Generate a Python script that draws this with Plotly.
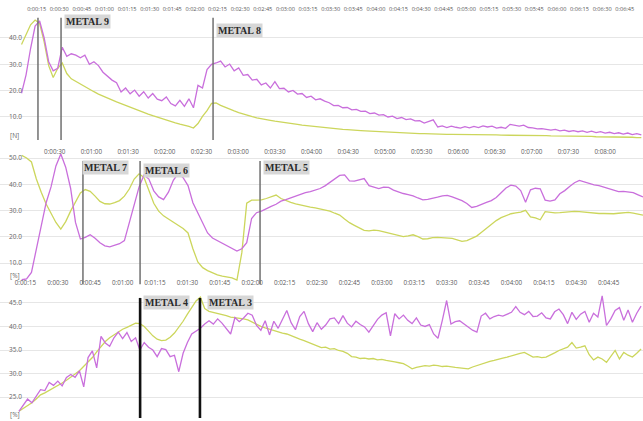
import numpy as np
import plotly.graph_objects as go

# ---------------------------------------------------------------
# Panel 1 : force [N], sampled every 3 s from t = 5 s
# ---------------------------------------------------------------
P1_T0, P1_DT = 5, 3
p1_purple = [19, 26, 36, 44.5, 46.5, 40, 31, 27.5, 28.5, 36.5, 33, 34, 33.5, 32.5, 33.5, 30,
             31, 29.5, 27, 25.5, 24, 23, 19.5, 21.0, 18.8, 20.2, 17.9, 19.6, 17.2, 18.9, 16.8,
             16.2, 17.6, 15.1, 14.2, 16.3, 14.0, 16.9, 13.5, 22, 21, 28, 30, 30.5, 31.2, 29,
             30.1, 27.5, 28.6, 25.8, 26.1, 24.0, 24.3, 22.2, 22.9, 21.0, 23.4, 20.8, 20.9, 19.5,
             20.1, 18.7, 18.9, 17.4, 17.9, 16.5, 16.9, 16.0, 15.4, 14.3, 14.4, 13.5, 13.6, 12.7,
             12.9, 12.1, 12.2, 11.3, 11.5, 10.7, 10.9, 10.0, 10.3, 9.4, 9.8, 9.0, 9.3, 8.5, 8.6,
             7.7, 8.3, 8.9, 6.2, 6.6, 6.0, 6.5, 6.1, 5.8, 6.3, 5.9, 6.4, 6.0, 6.6, 6.2, 6.5, 5.8,
             6.1, 5.7, 7.2, 6.8, 6.5, 6.9, 6.0, 5.9, 5.5, 5.6, 5.2, 5.0, 5.3, 4.7, 5.0, 4.5, 4.8,
             4.4, 4.7, 4.2, 4.6, 4.1, 4.4, 3.9, 4.2, 3.7, 4.0, 3.5, 3.9, 3.3, 3.7, 3.2]
p1_yellow = [37.5, 41.5, 45, 46.8, 45.5, 38.5, 29.5, 25, 28.5, 30.5, 26.5, 24.5, 23.5, 22.3,
             21.4, 20.6, 19.6, 18.7, 17.9, 17.1, 16.4, 15.7, 15.1, 14.4, 13.8, 13.1, 12.4, 11.6,
             11.1, 10.5, 9.9, 9.3, 8.9, 8.3, 7.8, 7.3, 6.9, 6.4, 5.8, 7.5, 10.2, 12.4, 15.2, 15.3,
             14.4, 13.6, 12.9, 12.3, 11.7, 11.1, 10.6, 10.1, 9.7, 9.3, 9.0, 8.7, 8.4, 8.2, 7.9,
             7.7, 7.4, 7.2, 6.9, 6.7, 6.5, 6.3, 6.1, 5.9, 5.8, 5.6, 5.5, 5.3, 5.2, 5.0, 4.9, 4.8,
             4.7, 4.6, 4.5, 4.4, 4.3, 4.2, 4.1, 4.0, 4.0, 3.9, 3.9, 3.8, 3.7, 3.7, 3.6, 3.6, 3.5,
             3.5, 3.4, 3.4, 3.4, 3.3, 3.3, 3.3, 3.3, 3.2, 3.2, 3.2, 3.2, 3.2, 3.1, 3.1, 3.1, 3.1,
             3.1, 3.0, 3.0, 3.0, 2.9, 2.9, 2.9, 2.8, 2.8, 2.8, 2.7, 2.7, 2.7, 2.7, 2.6, 2.6, 2.6,
             2.5, 2.5, 2.5, 2.4, 2.4, 2.4, 2.3, 2.3, 2.3, 2.2, 2.2]
p1_ticks = ["0:00:15", "0:00:30", "0:00:45", "0:01:00", "0:01:15", "0:01:30", "0:01:45",
            "0:02:00", "0:02:15", "0:02:30", "0:02:45", "0:03:00", "0:03:15", "0:03:30",
            "0:03:45", "0:04:00", "0:04:15", "0:04:30", "0:04:45", "0:05:00", "0:05:15",
            "0:05:30", "0:05:45", "0:06:00", "0:06:15", "0:06:30", "0:06:45"]
p1_metals = [("", 15.9), ("METAL 9", 31.2), ("METAL 8", 132.0)]

# ---------------------------------------------------------------
# Panel 2 : [%], sampled every 4 s from t = 3 s
# ---------------------------------------------------------------
P2_T0, P2_DT = 3, 4
p2_purple = [3.7, 4.0, 6.5, 15.5, 25, 33, 39, 47, 51.5, 46.5, 38.5, 25.5, 19.2, 19.8, 20.8,
             19.5, 17.8, 16.6, 16.2, 16.8, 17.4, 18.6, 25.5, 33, 39, 43.5, 42, 37.5, 35.2,
             34.2, 37, 41.5, 44.2, 42.5, 39.5, 33, 29, 25.5, 21.5, 19.6, 18.6, 17.8, 16.9, 15.8,
             14.6, 15.5, 17.8, 27, 29.2, 29.8, 30.8, 31.6, 32.4, 33.6, 34.2, 34.9, 35.6, 36.2,
             36.8, 37.2, 37.8, 38.4, 39.4, 40.8, 42.3, 43.4, 43.6, 41.3, 41.2, 41.8, 42.2, 39.5,
             38.8, 38.4, 38.9, 38.8, 37.8, 37.0, 36.5, 36.1, 35.6, 34.8, 34.1, 34.3, 34.6, 35.1,
             35.6, 35.8, 35.2, 34.6, 33.8, 32.7, 31.2, 31.6, 32.5, 33.1, 33.8, 35.0, 36.8, 38.6,
             39.7, 39.3, 37.6, 33.2, 37.9, 38.5, 38.3, 34.0, 33.6, 34.1, 36.4, 37.6, 39.2, 40.6,
             41.5, 40.9, 40.2, 39.8, 39.5, 38.9, 38.3, 37.6, 37.2, 37.3, 37.1, 36.8, 36.0, 35.2]
p2_yellow = [51, 50, 48.5, 42, 37, 32.5, 29, 25.5, 23, 25.8, 29.8, 33.5, 36.7, 38, 37.3, 35.5,
             33.5, 32.6, 32.5, 33, 33.8, 35.5, 38.2, 42, 44, 42.6, 37.5, 32.8, 29.8, 28, 26.8,
             25.5, 24.3, 23.2, 21.5, 15.5, 10.5, 8.3, 7.2, 6.3, 5.6, 5.1, 4.7, 4.4, 3.6, 14,
             32.8, 34, 34, 34.1, 34.6, 35.3, 35.9, 34.6, 33.8, 33.1, 32.6, 32.1, 31.6, 31.3, 31,
             30.6, 30.3, 29.8, 29, 28.3, 26.8, 25.4, 24.4, 23.4, 22.5, 22.3, 22.6, 22.4, 21.9,
             21.5, 21.1, 20.6, 20.1, 20.4, 20.8, 20.1, 19.2, 19.3, 19.7, 19.8, 19.6, 19.5, 19.4,
             18.9, 18.3, 18.6, 19.4, 20.3, 21.8, 23.3, 24.6, 26.2, 27.3, 28.1, 28.8, 29.1, 29.4,
             30.1, 27.6, 27.2, 26.5, 29.6, 29.3, 29.1, 29.2, 29.4, 29.6, 29.7, 29.6, 29.4, 29.2,
             29.0, 28.9, 28.9, 28.8, 28.8, 29.0, 29.2, 29.3, 29.0, 28.6, 28.3]
p2_ticks = ["0:00:30", "0:01:00", "0:01:30", "0:02:00", "0:02:30", "0:03:00", "0:03:30",
            "0:04:00", "0:04:30", "0:05:00", "0:05:30", "0:06:00", "0:06:30", "0:07:00",
            "0:07:30", "0:08:00"]
p2_metals = [("METAL 7", 53.1), ("METAL 6", 99.8), ("METAL 5", 197.9)]

# ---------------------------------------------------------------
# Panel 3 : [%], sampled every 2 s from t = 12 s
# ---------------------------------------------------------------
P3_T0, P3_DT = 12, 2
p3_purple = [22.0, 23.4, 24.6, 23.8, 25.3, 26.6, 26.4, 28.1, 27.5, 28.4, 27.4, 29.2, 29.8,
             29.2, 30.6, 27.2, 33.4, 34.8, 31.2, 37.9, 36.5, 35.8, 37.6, 38.8, 37.4, 38.7, 36.8,
             37.6, 35.0, 36.6, 35.6, 35.0, 33.6, 35.3, 35.1, 33.6, 33.9, 30.4, 34.3, 36.6, 38.4,
             39.0, 39.6, 40.5, 41.2, 40.5, 41.6, 40.7, 39.6, 38.4, 41.9, 41.0, 41.8, 42.8, 42.4,
             40.2, 39.2, 41.2, 38.2, 41.1, 39.6, 41.4, 43.4, 40.8, 39.3, 42.1, 43.2, 40.6, 38.9,
             40.8, 39.4, 40.3, 41.6, 41.8, 40.6, 42.3, 40.7, 39.9, 41.1, 40.4, 39.9, 38.8, 40.2,
             41.5, 42.4, 42.9, 38.0, 42.7, 41.6, 42.4, 41.3, 40.6, 41.8, 40.3, 40.0, 40.4, 38.4,
             37.5, 41.3, 45.5, 40.5, 41.0, 41.2, 40.5, 39.8, 39.2, 38.8, 42.2, 42.8, 41.6, 42.1,
             42.4, 42.2, 42.6, 43.0, 44.2, 43.0, 42.5, 43.2, 42.1, 42.2, 42.9, 41.8, 41.6, 43.1,
             43.7, 42.5, 40.6, 43.0, 41.5, 42.6, 43.2, 40.9, 42.8, 42.0, 46.5, 40.2, 41.6, 43.4,
             44.0, 41.3, 43.5, 40.9, 42.8, 44.3]
p3_yellow = [22.0, 22.6, 23.2, 23.8, 24.6, 25.5, 25.9, 26.4, 27.0, 27.4, 28.0, 28.6, 29.2,
             29.9, 30.6, 31.5, 32.4, 33.4, 34.6, 35.8, 36.8, 37.6, 38.2, 38.9, 39.4, 39.8, 40.2,
             40.7, 40.6, 40.0, 39.0, 38.0, 37.3, 37.0, 37.1, 37.7, 38.6, 39.8, 41.1, 42.6, 44.0,
             45.4, 46.2, 43.8, 43.2, 43.0, 42.8, 42.5, 42.3, 42.0, 41.9, 41.8, 41.6, 41.4, 40.9,
             40.4, 40.0, 39.7, 39.4, 39.1, 38.8, 38.6, 38.4, 38.0, 37.7, 37.3, 37.0, 36.6, 36.3,
             35.8, 35.5, 35.6, 35.2, 35.3, 34.9, 34.7, 34.3, 33.6, 33.5, 33.2, 33.3, 33.1, 33.2,
             32.9, 33.0, 32.8, 32.7, 32.5, 32.3, 32.1, 31.6, 31.0, 31.3, 31.5, 31.7, 31.6, 31.8,
             31.7, 31.5, 31.6, 31.4, 31.3, 31.2, 31.1, 31.0, 31.4, 31.7, 32.0, 32.4, 32.6, 32.8,
             33.1, 33.3, 33.5, 33.8, 34.0, 34.3, 34.5, 34.0, 33.5, 33.6, 33.4, 33.5, 33.9, 34.4,
             34.9, 35.2, 35.6, 36.6, 35.4, 35.6, 35.9, 34.0, 32.9, 33.5, 33.1, 32.4, 33.6, 34.9,
             33.1, 34.5, 33.9, 33.5, 34.3, 35.2]
p3_ticks = ["0:00:15", "0:00:30", "0:00:45", "0:01:00", "0:01:15", "0:01:30", "0:01:45",
            "0:02:00", "0:02:15", "0:02:30", "0:02:45", "0:03:00", "0:03:15", "0:03:30",
            "0:03:45", "0:04:00", "0:04:15", "0:04:30", "0:04:45", "0:05:00"]
p3_metals = [("METAL 4", 68.1), ("METAL 3", 95.8)]

PURPLE = "#c96fdc"
YELLOW = "#ccd65c"


def timeline(t0, dt, values):
    return t0 + dt * np.arange(len(values))


def to_seconds(label):
    h, m, s = (int(p) for p in label.split(":"))
    return h * 3600 + m * 60 + s


panels = [
    dict(t0=P1_T0, dt=P1_DT, purple=p1_purple, yellow=p1_yellow, ticks=p1_ticks,
         metals=p1_metals, xr=[-9.28, 417.1], yr=[0.5, 52.9], dom=[0.6627, 0.9905],
         yt=[10, 20, 30, 40], unit="[N]", unit_y=3.15, tsize=5.6,
         mline=dict(color="#707070", width=1.5), my=[0.015, 0.9],
         lab_y={"METAL 9": 0.87, "METAL 8": 0.81}, lab_dx={"METAL 9": 3, "METAL 8": 3}),
    dict(t0=P2_T0, dt=P2_DT, purple=p2_purple, yellow=p2_yellow, ticks=p2_ticks,
         metals=p2_metals, xr=[-14.72, 511.0], yr=[0.95, 54.18], dom=[0.3183, 0.6508],
         yt=[10, 20, 30, 40, 50], unit="[%]", unit_y=5.2, tsize=6.3,
         mline=dict(color="#707070", width=1.5), my=[0.02, 0.9],
         lab_y={"METAL 7": 0.854, "METAL 6": 0.829, "METAL 5": 0.854},
         lab_dx={"METAL 7": -1, "METAL 6": 3, "METAL 5": 3}),
    dict(t0=P3_T0, dt=P3_DT, purple=p3_purple, yellow=p3_yellow, ticks=p3_ticks,
         metals=p3_metals, xr=[3.24, 300.9], yr=[20.16, 50.26], dom=[0.0024, 0.3395],
         yt=[25, 30, 35, 40, 45], unit="[%]", unit_y=21.4, tsize=6.3,
         mline=dict(color="#111111", width=2.6), my=[0.014, 0.86],
         lab_y={"METAL 4": 0.825, "METAL 3": 0.825}, lab_dx={"METAL 4": 3, "METAL 3": 7}),
]

fig = go.Figure()
shapes, annotations = [], []
layout_axes = {}

for i, p in enumerate(panels, start=1):
    xa = "x" if i == 1 else f"x{i}"
    ya = "y" if i == 1 else f"y{i}"
    for vals, col in ((p["yellow"], YELLOW), (p["purple"], PURPLE)):
        fig.add_trace(go.Scatter(x=timeline(p["t0"], p["dt"], vals), y=vals, mode="lines",
                                 line=dict(color=col, width=1.3), xaxis=xa, yaxis=ya,
                                 showlegend=False, hoverinfo="skip"))
    xkey = "xaxis" if i == 1 else f"xaxis{i}"
    ykey = "yaxis" if i == 1 else f"yaxis{i}"
    layout_axes[xkey] = dict(
        domain=[0, 1], range=p["xr"], anchor=ya, side="top", showgrid=False,
        zeroline=False, showline=False, ticks="", ticklabelposition="inside",
        tickvals=[to_seconds(t) for t in p["ticks"]], ticktext=p["ticks"],
        tickfont=dict(family="Open Sans", size=p["tsize"], color="#5a5a5a"))
    layout_axes[ykey] = dict(
        domain=p["dom"], range=p["yr"], anchor=xa, showgrid=True, gridcolor="#e6e6e6",
        gridwidth=1, zeroline=False, showline=False, ticks="", ticklabelposition="inside",
        ticklabelstandoff=6, tickvals=p["yt"], tickformat=".1f",
        tickfont=dict(family="Open Sans", size=6.5, color="#666666"))
    annotations.append(dict(text=p["unit"], xref="paper", yref=ya, x=0.012, y=p["unit_y"],
                            xanchor="left", yanchor="middle", showarrow=False,
                            font=dict(family="Open Sans", size=6.5, color="#666666")))
    for name, t in p["metals"]:
        shapes.append(dict(type="line", xref=xa, yref=f"{ya} domain", x0=t, x1=t,
                           y0=p["my"][0], y1=p["my"][1], line=p["mline"], layer="above"))
        if name:
            annotations.append(dict(
                text=f"<b>{name}</b>", xref=xa, yref=f"{ya} domain", x=t,
                y=p["lab_y"][name], xanchor="left", yanchor="middle",
                xshift=p["lab_dx"][name], showarrow=False, bgcolor="#d7d7d7", borderpad=1,
                font=dict(family="Liberation Serif", size=10, color="#2a2a2a")))

fig.update_layout(width=643, height=421, margin=dict(l=0, r=0, t=0, b=0),
                  paper_bgcolor="white", plot_bgcolor="rgba(0,0,0,0)",
                  shapes=shapes, annotations=annotations, **layout_axes)

fig.write_html("out.html")
